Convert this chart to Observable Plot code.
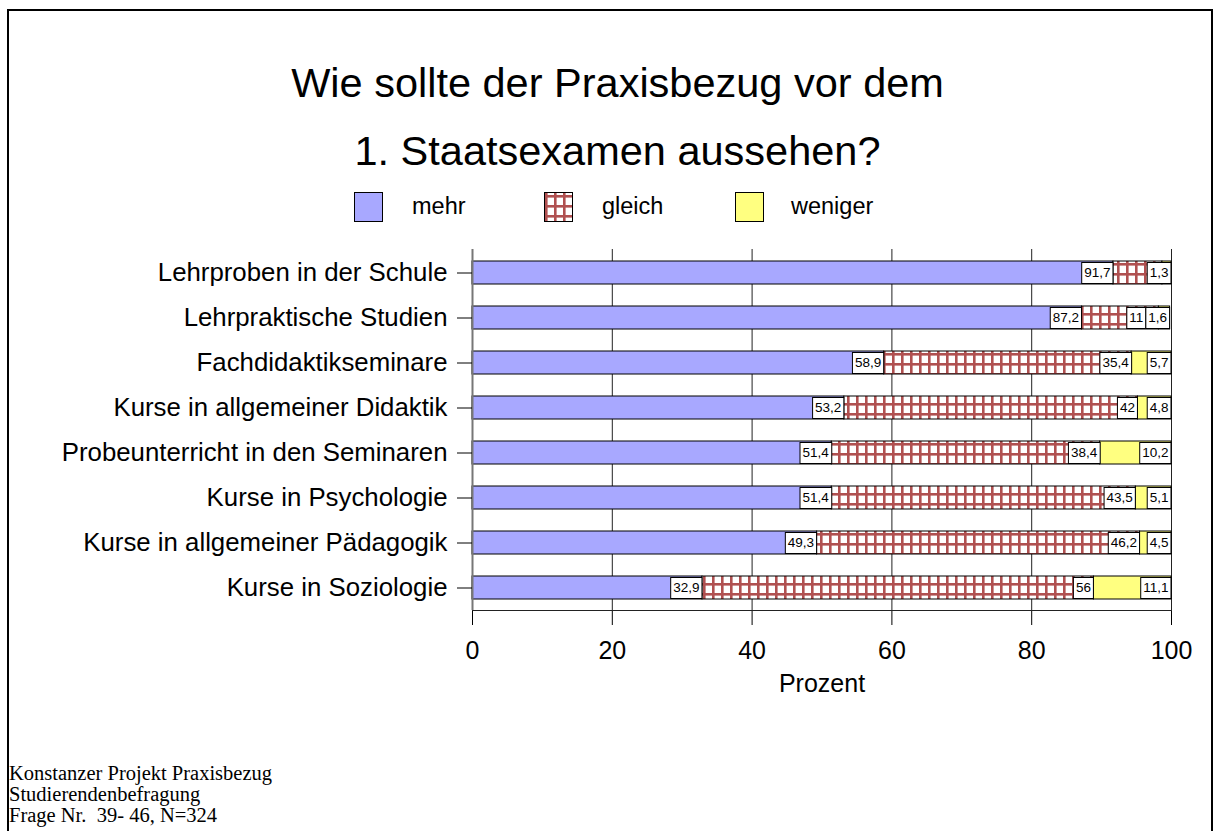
<!DOCTYPE html>
<html>
<head>
<meta charset="utf-8">
<script src="https://cdn.jsdelivr.net/npm/d3@7"></script>
<script src="https://cdn.jsdelivr.net/npm/@observablehq/plot@0.6"></script>
<style>
  body { margin: 0; background: #fff; }
  #page { position: relative; width: 1219px; height: 831px; overflow: hidden; font-family: "Liberation Sans", Arial, sans-serif; color: #000; }
  .frame { position: absolute; left: 7px; top: 9px; width: 1206px; height: 900px; border: 2px solid #000; box-sizing: border-box; }
  .title { position: absolute; left: 0; width: 1235px; text-align: center; font-size: 41.5px; line-height: 41.5px; white-space: nowrap; }
  .legend-swatch { position: absolute; top: 192px; width: 29px; height: 30px; }
  .legend-text { position: absolute; top: 192px; font-size: 23.5px; line-height: 28px; white-space: nowrap; }
  #chart { position: absolute; left: 0; top: 240px; }
  .footer { position: absolute; left: 9px; font-family: "Liberation Serif", "Times New Roman", serif; font-size: 20.5px; line-height: 20px; height: 20px; white-space: nowrap; }
</style>
</head>
<body>
<div id="page">
  <div class="frame"></div>
  <div class="title" style="top:62px">Wie sollte der Praxisbezug vor dem</div>
  <div class="title" style="top:130px">1. Staatsexamen aussehen?</div>
  <div id="legend"></div>
  <div id="chart"></div>
  <div class="footer" style="top:763px">Konstanzer Projekt Praxisbezug</div>
  <div class="footer" style="top:784px">Studierendenbefragung</div>
  <div class="footer" style="top:805px">Frage Nr.&nbsp; 39- 46, N=324</div>
</div>
<script>
// ---- data ----
const categories = [
  "Lehrproben in der Schule",
  "Lehrpraktische Studien",
  "Fachdidaktikseminare",
  "Kurse in allgemeiner Didaktik",
  "Probeunterricht in den Seminaren",
  "Kurse in Psychologie",
  "Kurse in allgemeiner Pädagogik",
  "Kurse in Soziologie"
];
const series = ["mehr", "gleich", "weniger"];
const mehr    = [91.7, 87.2, 58.9, 53.2, 51.4, 51.4, 49.3, 32.9];
const gleich  = [7.0, 11, 35.4, 42, 38.4, 43.5, 46.2, 56];
const weniger = [1.3, 1.6, 5.7, 4.8, 10.2, 5.1, 4.5, 11.1];
// labels not printed in the original (hidden by the neighbouring box)
const hiddenLabels = [["Lehrproben in der Schule", "gleich"]];
const xTicks = [0, 20, 40, 60, 80, 100];
const xLabel = "Prozent";

// ---- styles ----
const colors = ["#A8A8FF", "url(#gleich-pattern)", "#FFFF80"];
const patternColor = "#B05050";

const fmt = v => String(v).replace(".", ",");
const valuesBySeries = {mehr, gleich, weniger};
const rows = categories.flatMap((cat, i) => series.map(s => ({
  cat, series: s, value: valuesBySeries[s][i],
  label: hiddenLabels.some(([c, ss]) => c === cat && ss === s) ? null : fmt(valuesBySeries[s][i])
})));

const patternDefs = (id) => `
  <pattern id="${id}" patternUnits="userSpaceOnUse" width="9" height="10" x="1" y="3">
    <rect width="9" height="10" fill="#fff"/>
    <rect x="0" y="0" width="2.6" height="10" fill="${patternColor}"/>
    <rect x="0" y="0" width="9" height="2.6" fill="${patternColor}"/>
  </pattern>`;

function defsMark() {
  const defs = document.createElementNS("http://www.w3.org/2000/svg", "defs");
  defs.innerHTML = patternDefs("gleich-pattern");
  return defs;
}

// ---- legend ----
const legend = document.getElementById("legend");
const swatchX = [354, 544, 735];
const textX = [412, 602, 791];
series.forEach((s, i) => {
  const sw = document.createElementNS("http://www.w3.org/2000/svg", "svg");
  sw.setAttribute("class", "legend-swatch");
  sw.setAttribute("width", 29); sw.setAttribute("height", 30);
  sw.style.left = swatchX[i] + "px";
  sw.innerHTML = "<defs>" + patternDefs("gleich-pattern-legend") + "</defs>" +
    `<rect x="0.5" y="0.5" width="28" height="29" fill="${colors[i].replace("#gleich-pattern", "#gleich-pattern-legend")}" stroke="#000" stroke-width="1"/>`;
  legend.appendChild(sw);
  const t = document.createElement("div");
  t.className = "legend-text";
  t.style.left = textX[i] + "px";
  t.textContent = s;
  legend.appendChild(t);
});

// ---- chart ----
const chart = Plot.plot({
  width: 1219,
  height: 454,
  marginLeft: 472,
  marginRight: 48,
  marginTop: 9,
  marginBottom: 84,
  style: {fontFamily: "'Liberation Sans', Arial, sans-serif", background: "transparent", color: "#000", overflow: "visible"},
  x: {domain: [0, 100]},
  y: {domain: categories, paddingInner: 0.49, paddingOuter: 0.245},
  color: {domain: series, range: colors},
  marks: [
    defsMark,
    Plot.ruleX(xTicks.slice(1), {stroke: "#222", strokeWidth: 1}),
    Plot.barX(rows, {x: "value", y: "cat", fill: "series", stroke: "#000", strokeWidth: 1}),
    Plot.ruleX([0], {stroke: "#777", strokeWidth: 2}),
    Plot.text(rows, Plot.stackX2({x: "value", y: "cat", z: "series", text: "label",
      textAnchor: "end", dx: -3, fontSize: 13.5, fill: "#000"})),
    Plot.axisY({tickSize: 15, tickPadding: 10, fontSize: 25.8, label: null}),
    Plot.axisX({ticks: xTicks, tickSize: 15, tickPadding: 16, fontSize: 25, label: xLabel,
      labelAnchor: "center", labelArrow: "none"}),
    Plot.frame({anchor: "bottom", stroke: "#222"})
  ]
});
document.getElementById("chart").appendChild(chart);

// white boxes with black border behind the value labels; overlapping boxes are pushed left
const labelGroup = chart.querySelector('g[aria-label="text"]');
const labelItems = Array.from(labelGroup.querySelectorAll("text")).map(t => {
  const b = t.getBBox();
  const m = t.transform.baseVal.consolidate();
  const e = m ? m.matrix.e : 0, f = m ? m.matrix.f : 0;
  return {t, x: b.x + e, w: b.width, cy: Math.round(b.y + f + b.height / 2), tr: t.getAttribute("transform") || ""};
}).filter(d => d.w > 0);
const byRow = d3.group(labelItems, d => d.cy);
for (const items of byRow.values()) {
  items.sort((a, b) => b.x - a.x);
  let limit = Infinity;
  for (const d of items) {
    let left = d.x - 2.5, right = d.x + d.w + 2.5;
    const shift = right > limit ? right - limit : 0;
    left -= shift; right -= shift;
    const r = document.createElementNS("http://www.w3.org/2000/svg", "rect");
    r.setAttribute("x", left);
    r.setAttribute("y", d.cy - 10.5);
    r.setAttribute("width", right - left);
    r.setAttribute("height", 21);
    r.setAttribute("fill", "#fff");
    r.setAttribute("stroke", "#000");
    r.setAttribute("stroke-width", 1);
    if (shift) d.t.setAttribute("transform", `translate(${-shift},0) ${d.tr}`.trim());
    labelGroup.insertBefore(r, d.t);
    limit = left;
  }
}
</script>
</body>
</html>
